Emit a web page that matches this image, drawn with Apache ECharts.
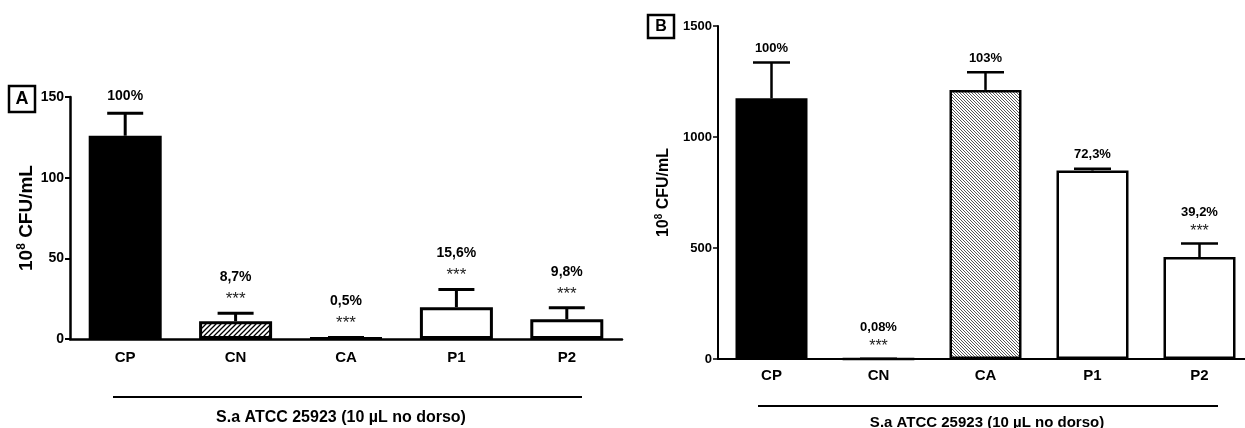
<!DOCTYPE html>
<html><head><meta charset="utf-8">
<script src="https://cdn.jsdelivr.net/npm/echarts@6/dist/echarts.min.js"></script>
<style>html,body{margin:0;padding:0;background:#fff;overflow:hidden}#c{width:1260px;height:428px}</style>
</head><body><div id="c"></div>
<script>
const categories = ['CP','CN','CA','P1','P2'];
// Panel A (10^8 CFU/mL)
const valuesA = [126, 11, 0.6, 19.7, 12.3];
const sdA = [14, 5, 0.4, 11, 7];
const pctA = ['100%','8,7%','0,5%','15,6%','9,8%'];
const starsA = ['','***','***','***','***'];
// Panel B
const valuesB = [1174, 1, 1212, 849, 459];
const sdB = [162, 0, 80, 8, 61];
const pctB = ['100%','0,08%','103%','72,3%','39,2%'];
const starsB = ['','***','','','***'];
const groupLabel = 'S.a ATCC 25923 (10 µL no dorso)';
const yTicksA = {min:0, max:150, interval:50};
const yTicksB = {min:0, max:1500, interval:500};

const FONT = 'Liberation Sans, Arial, sans-serif';

function hatch(dir, size, color, lw, bg){
  const c = document.createElement('canvas'); c.width = size; c.height = size;
  const g = c.getContext('2d'); g.fillStyle = bg; g.fillRect(0,0,size,size);
  g.strokeStyle = color; g.lineWidth = lw; g.beginPath();
  if (dir === '/') {
    g.moveTo(0,size); g.lineTo(size,0);
    g.moveTo(-size/2,size/2); g.lineTo(size/2,-size/2);
    g.moveTo(size/2,size*1.5); g.lineTo(size*1.5,size/2);
  } else {
    g.moveTo(0,0); g.lineTo(size,size);
    g.moveTo(-size/2,size/2); g.lineTo(size/2,size*1.5);
    g.moveTo(size/2,-size/2); g.lineTo(size*1.5,size/2);
  }
  g.stroke();
  return {image:c, repeat:'repeat'};
}
const hatchA = hatch('/', 5, '#000', 1.3, '#fff');
const hatchB = hatch('\\', 3, '#444', 0.9, '#fff');

const fillA = ['#000', hatchA, '#fff', '#fff', '#fff'];
const fillB = ['#000', '#fff', hatchB, '#fff', '#fff'];

function barData(vals, fills){
  return vals.map((v,i)=>({value:v, itemStyle:{color:fills[i]}}));
}
function errRender(cap, lw, pctOff, starOff, pctOffNoStar, pctSize, starSize, pcts, stars){
  return function(params, api){
    const i = api.value(0), v = api.value(1), top = api.value(2);
    const p0 = api.coord([i, v]), p1 = api.coord([i, top]);
    const ch = [
      {type:'line', shape:{x1:p0[0],y1:p0[1],x2:p1[0],y2:p1[1]}, style:{stroke:'#000', lineWidth:lw}},
      {type:'line', shape:{x1:p1[0]-cap,y1:p1[1],x2:p1[0]+cap,y2:p1[1]}, style:{stroke:'#000', lineWidth:lw}}
    ];
    const s = stars[params.dataIndex];
    if (s) ch.push({type:'text', style:{text:s, x:p1[0], y:p1[1]-starOff, align:'center', verticalAlign:'middle', fontSize:starSize, fontFamily:FONT, fill:'#222'}});
    ch.push({type:'text', style:{text:pcts[params.dataIndex], x:p1[0], y:p1[1]-(s?pctOff:pctOffNoStar), align:'center', verticalAlign:'middle', fontSize:pctSize, fontWeight:'bold', fontFamily:FONT, fill:'#000'}});
    return {type:'group', children:ch};
  };
}

const chart = echarts.init(document.getElementById('c'), null, {renderer:'canvas'});
chart.setOption({
  animation:false,
  backgroundColor:'#fff',
  grid:[
    {left:70, top:97, width:552, height:242},
    {left:718, top:26, width:535, height:333}
  ],
  xAxis:[
    {type:'category', gridIndex:0, data:categories,
     axisLine:{lineStyle:{color:'#000', width:2.5}},
     axisTick:{alignWithLabel:true, length:5, lineStyle:{color:'#000', width:2}},
     axisLabel:{color:'#000', fontWeight:'bold', fontSize:15, fontFamily:FONT, margin:11}},
    {type:'category', gridIndex:1, data:categories,
     axisLine:{lineStyle:{color:'#000', width:2}},
     axisTick:{alignWithLabel:true, length:5, lineStyle:{color:'#000', width:1.5}},
     axisLabel:{color:'#000', fontWeight:'bold', fontSize:15, fontFamily:FONT, margin:9}}
  ],
  yAxis:[
    {type:'value', gridIndex:0, min:yTicksA.min, max:yTicksA.max, interval:yTicksA.interval,
     splitLine:{show:false},
     axisLine:{show:true, lineStyle:{color:'#000', width:2.5}},
     axisTick:{show:true, length:5, lineStyle:{color:'#000', width:2}},
     axisLabel:{color:'#000', fontWeight:'bold', fontSize:14, fontFamily:FONT, margin:6, formatter:v=>String(v)},
     name:'{a|10}{s|8}{a| CFU/mL}', nameLocation:'middle', nameGap:31, nameRotate:90,
     nameTextStyle:{rich:{a:{fontSize:19, fontWeight:'bold', fontFamily:FONT, color:'#000'}, s:{fontSize:12, fontWeight:'bold', fontFamily:FONT, color:'#000', padding:[0,0,11,0]}}}},
    {type:'value', gridIndex:1, min:yTicksB.min, max:yTicksB.max, interval:yTicksB.interval,
     splitLine:{show:false},
     axisLine:{show:true, lineStyle:{color:'#000', width:2}},
     axisTick:{show:true, length:5, lineStyle:{color:'#000', width:1.5}},
     axisLabel:{color:'#000', fontWeight:'bold', fontSize:13, fontFamily:FONT, margin:6, formatter:v=>String(v)},
     name:'{a|10}{s|8}{a| CFU/mL}', nameLocation:'middle', nameGap:45, nameRotate:90,
     nameTextStyle:{rich:{a:{fontSize:16, fontWeight:'bold', fontFamily:FONT, color:'#000'}, s:{fontSize:10, fontWeight:'bold', fontFamily:FONT, color:'#000', padding:[0,0,9,0]}}}}
  ],
  series:[
    {type:'bar', xAxisIndex:0, yAxisIndex:0, barWidth:73, data:barData(valuesA, fillA),
     itemStyle:{borderColor:'#000', borderWidth:3}},
    {type:'custom', xAxisIndex:0, yAxisIndex:0, z:5,
     data:valuesA.map((v,i)=>[i, v, v+sdA[i]]),
     renderItem:errRender(18, 3, 36, 14, 17, 14, 17, pctA, starsA)},
    {type:'bar', xAxisIndex:1, yAxisIndex:1, barWidth:72, data:barData(valuesB, fillB),
     itemStyle:{borderColor:'#000', borderWidth:2.5}},
    {type:'custom', xAxisIndex:1, yAxisIndex:1, z:5,
     data:valuesB.map((v,i)=>[i, v, v+sdB[i]]),
     renderItem:errRender(18.5, 2.5, 31, 12, 14, 13, 16, pctB, starsB)}
  ],
  graphic:[
    {type:'rect', shape:{x:9, y:86, width:26, height:26}, style:{fill:'#fff', stroke:'#000', lineWidth:2.5}},
    {type:'text', x:22, y:99, style:{text:'A', align:'center', verticalAlign:'middle', fontSize:18, fontWeight:'bold', fontFamily:FONT, fill:'#000'}},
    {type:'rect', shape:{x:648, y:15, width:26, height:23}, style:{fill:'#fff', stroke:'#000', lineWidth:2.5}},
    {type:'text', x:661, y:27, style:{text:'B', align:'center', verticalAlign:'middle', fontSize:16, fontWeight:'bold', fontFamily:FONT, fill:'#000'}},
    {type:'line', shape:{x1:113, y1:397, x2:582, y2:397}, style:{stroke:'#000', lineWidth:2}},
    {type:'text', x:341, y:418, style:{text:groupLabel, align:'center', verticalAlign:'middle', fontSize:16, fontWeight:'bold', fontFamily:FONT, fill:'#000'}},
    {type:'line', shape:{x1:758, y1:406, x2:1218, y2:406}, style:{stroke:'#000', lineWidth:2}},
    {type:'text', x:987, y:423, style:{text:groupLabel, align:'center', verticalAlign:'middle', fontSize:15, fontWeight:'bold', fontFamily:FONT, fill:'#000'}}
  ]
});
</script></body></html>
